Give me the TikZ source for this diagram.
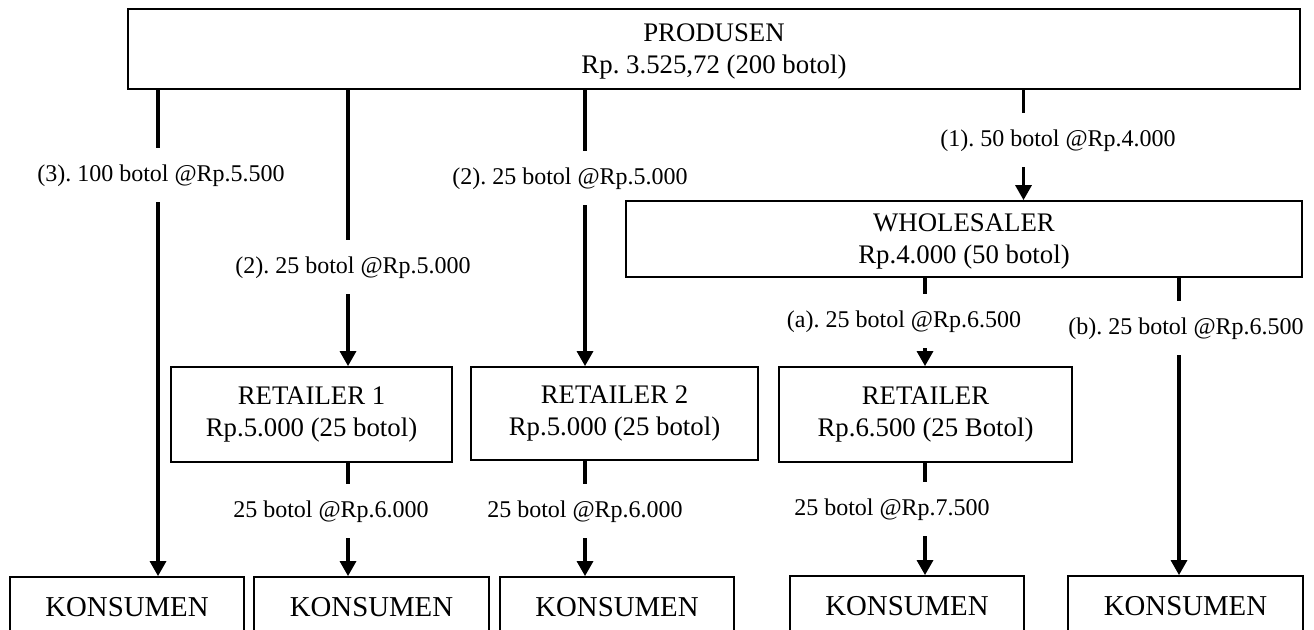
\documentclass[tikz,border=0pt]{standalone}
\usepackage{fontspec}
\setmainfont{Liberation Serif}
\usetikzlibrary{arrows.meta}
\frenchspacing
\tikzset{
  box/.style={rectangle, draw, line width=0.9pt, align=center, inner sep=0pt, font=\fontsize{13.4}{16}\selectfont},
  kbox/.style={box, minimum height=30pt, font=\fontsize{14.4}{16}\selectfont},
  lbl/.style={inner xsep=0pt, inner ysep=8pt, text height=8.5pt, text depth=2.5pt, font=\fontsize{12}{14}\selectfont},
  link/.style={line width=1.6pt},
  arr/.style={link, -{Triangle[length=7.5pt, width=8pt]}},
}

\begin{document}
\begin{tikzpicture}[x=0.5pt, y=-0.5pt]
    \useasboundingbox (0,0) rectangle (1314,629);
    % kotak
    \node[box, minimum width=586pt, minimum height=40pt, text depth=0pt] (prod) at (714, 49) {PRODUSEN\\Rp. 3.525,72 (200 botol)};
    \node[box, minimum width=338pt, minimum height=38pt, text depth=0pt] (whole) at (964, 239) {WHOLESALER\\Rp.4.000 (50 botol)};
    \node[box, minimum width=140.5pt, minimum height=47.5pt] (ret1) at (311.5, 414.5) {RETAILER 1\\Rp.5.000 (25 botol)};
    \node[box, minimum width=143.5pt, minimum height=46.5pt] (ret2) at (614.5, 413.5) {RETAILER 2\\Rp.5.000 (25 botol)};
    \node[box, minimum width=146.5pt, minimum height=47.5pt] (ret3) at (925.5, 414.5) {RETAILER\\Rp.6.500 (25 Botol)};
    \node[kbox, minimum width=117pt] (kons1) at (127, 607) {KONSUMEN};
    \node[kbox, minimum width=117.5pt] (kons2) at (371.5, 607) {KONSUMEN};
    \node[kbox, minimum width=117pt] (kons3) at (617, 607) {KONSUMEN};
    \node[kbox, minimum width=117pt] (kons4) at (907, 606) {KONSUMEN};
    \node[kbox, minimum width=117.5pt] (kons5) at (1185.5, 606) {KONSUMEN};

    % label
    \node[lbl] (l3) at (161, 175) {(3). 100 botol @Rp.5.500};
    \node[lbl] (l2a) at (353, 267) {(2). 25 botol @Rp.5.000};
    \node[lbl] (l2b) at (570, 178) {(2). 25 botol @Rp.5.000};
    \node[lbl] (l1) at (1058, 140) {(1). 50 botol @Rp.4.000};
    \node[lbl] (la) at (904, 321) {(a). 25 botol @Rp.6.500};
    \node[lbl] (lb) at (1186, 328) {(b). 25 botol @Rp.6.500};
    \node[lbl] (lr1) at (331, 511) {25 botol @Rp.6.000};
    \node[lbl] (lr2) at (585, 511) {25 botol @Rp.6.000};
    \node[lbl] (lr3) at (892, 509) {25 botol @Rp.7.500};

    % titik cabang
    \coordinate (tA) at (158, 0);
    \coordinate (tB) at (348, 0);
    \coordinate (tC) at (585, 0);
    \coordinate (tD) at (1023.5, 0);
    \coordinate (tE) at (925, 0);
    \coordinate (tF) at (1179, 0);

    % panah
    \draw[link] (prod.south -| tA) -- (l3.north -| tA);
    \draw[arr] (l3.south -| tA) -- (kons1.north -| tA);
    \draw[link] (prod.south -| tB) -- (l2a.north -| tB);
    \draw[arr] (l2a.south -| tB) -- (ret1.north -| tB);
    \draw[link] (prod.south -| tC) -- (l2b.north -| tC);
    \draw[arr] (l2b.south -| tC) -- (ret2.north -| tC);
    \draw[link] (prod.south -| tD) -- (l1.north -| tD);
    \draw[arr] (l1.south -| tD) -- (whole.north -| tD);
    \draw[link] (whole.south -| tE) -- (la.north -| tE);
    \draw[arr] (la.south -| tE) -- (ret3.north -| tE);
    \draw[link] (whole.south -| tF) -- (lb.north -| tF);
    \draw[arr] (lb.south -| tF) -- (kons5.north -| tF);
    \draw[link] (ret1.south -| tB) -- (lr1.north -| tB);
    \draw[arr] (lr1.south -| tB) -- (kons2.north -| tB);
    \draw[link] (ret2.south -| tC) -- (lr2.north -| tC);
    \draw[arr] (lr2.south -| tC) -- (kons3.north -| tC);
    \draw[link] (ret3.south -| tE) -- (lr3.north -| tE);
    \draw[arr] (lr3.south -| tE) -- (kons4.north -| tE);
\end{tikzpicture}
\end{document}
